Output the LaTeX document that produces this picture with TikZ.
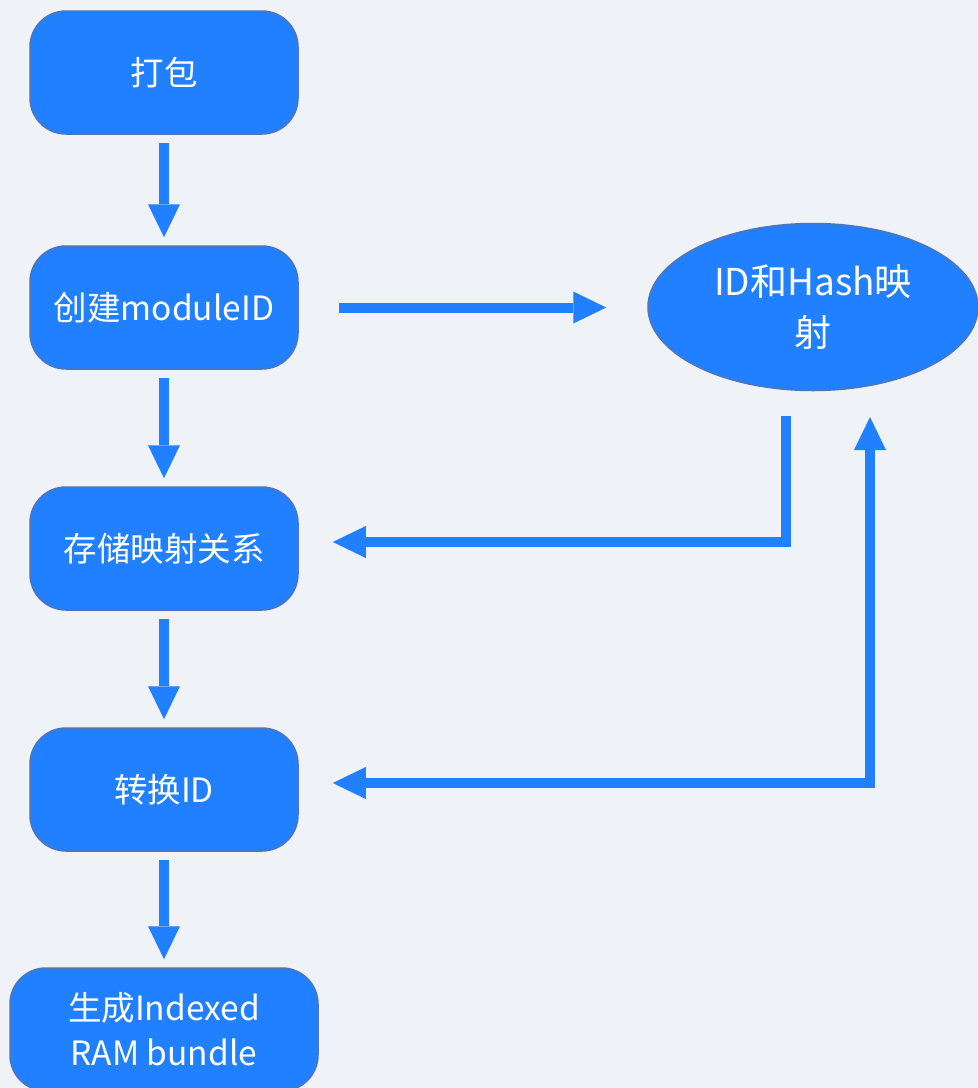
\documentclass[tikz,border=0pt]{standalone}
\usepackage{fontspec}
\setmainfont{Noto Sans CJK SC}
\usetikzlibrary{arrows.meta,shapes.geometric}
\definecolor{bg}{HTML}{EFF2F7}
\definecolor{boxfill}{HTML}{2180FF}
\definecolor{boxline}{HTML}{4F75B9}
\tikzset{
  stepbox/.style={draw=boxline, line width=1.5pt, fill=boxfill, rounded corners=36pt,
    minimum width=268pt, minimum height=123pt, inner sep=0pt, text=white,
    font=\fontsize{33.5}{45}\selectfont, align=center},
  ellbox/.style={ellipse, draw=boxline, line width=1.5pt, fill=boxfill,
    minimum width=330pt, minimum height=167pt, inner sep=0pt, text=white,
    font=\fontsize{37}{51}\selectfont, align=center},
  tip/.tip={Triangle[length=33pt,width=32pt,line width=0pt]},
  flow/.style={draw=boxfill, line width=10pt, -tip},
  flowboth/.style={draw=boxfill, line width=10pt, tip-tip},
}
\begin{document}
\begin{tikzpicture}[x=1pt,y=-1pt]
\fill[bg] (0,0) rectangle (978,1088);
\useasboundingbox (0,0) rectangle (978,1088);
\clip (0,0) rectangle (978,1088);
\node[stepbox] (n1) at (164,72.5) {打包};
\node[stepbox] (n2) at (164,307.5) {创建moduleID};
\node[stepbox] (n3) at (164,548.5) {存储映射关系};
\node[stepbox] (n4) at (164,789.5) {转换ID};
\node[stepbox, minimum width=308pt] (n5) at (164,1029.5) {生成Indexed\\RAM bundle};
\node[ellbox] (e) at (813,307) {ID和Hash映\\射};
\coordinate (a1) at (786,416);
\coordinate (a2) at (786,542);
\coordinate (b1) at (870,783);
\coordinate (b2) at (870,417);
\draw[flow, shorten <=8pt, shorten >=8pt] (n1) -- (n2);
\draw[flow, shorten <=8pt, shorten >=8pt] (n2) -- (n3);
\draw[flow, shorten <=8pt, shorten >=8pt] (n3) -- (n4);
\draw[flow, shorten <=8pt, shorten >=8pt] (n4) -- (n5);
\draw[flow, shorten <=40pt, shorten >=41pt] (n2.east) -- (n2.east -| e.west);
\draw[flow, shorten >=34pt] (a1) -- (a2) -- (a2 -| n3.east);
\draw[flowboth, shorten <=34pt] (n4.east |- b1) -- (b1) -- (b2);
\end{tikzpicture}
\end{document}
